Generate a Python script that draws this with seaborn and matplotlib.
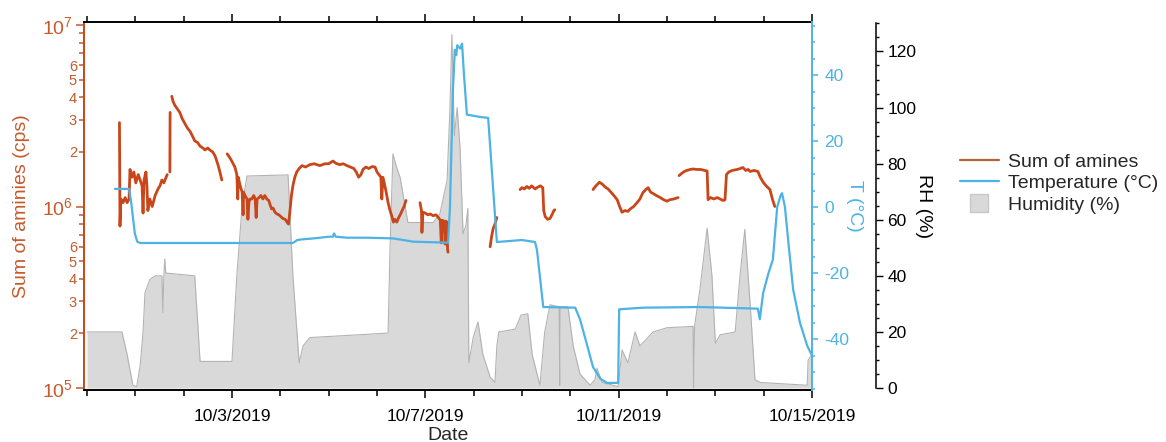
import numpy as np
import pandas as pd
import matplotlib
matplotlib.use("Agg")
import matplotlib.pyplot as plt
import matplotlib.dates as mdates
from matplotlib.ticker import LogLocator, FuncFormatter, MultipleLocator
from matplotlib.lines import Line2D
import seaborn as sns

START = pd.Timestamp("2019-09-30")
NAN = np.nan

# Sum of amines (cps); NaN separates measurement periods
amine_days = [
    0.672, 0.683, 0.70, 0.745, 0.79, 0.83, 0.87, 0.89, 0.93, 0.97, 1.01, 1.06, 1.10, 1.14,
    1.16, 1.18, 1.22, 1.24, 1.26, 1.30, 1.35, 1.41, 1.47, 1.51, 1.55, 1.59, 1.66, NAN,
    1.715, 1.72, NAN,
    1.755, 1.78, 1.82, 1.87, 1.92, 1.97, 2.03, 2.08, 2.13, 2.18, 2.23, 2.29, 2.34, 2.40,
    2.44, 2.50, 2.54, 2.60, 2.65, 2.71, 2.75, 2.79, NAN,
    2.90, 2.93, 2.96, 3.01, 3.06, 3.10, 3.12, 3.13, 3.17, 3.21, 3.23, 3.24, 3.27, 3.31,
    3.33, 3.35, 3.37, 3.41, 3.45, 3.48, 3.50, 3.52, 3.56, 3.60, 3.64, 3.68, 3.72, 3.76,
    3.79, 3.82, 3.85, 3.89, 3.93, 3.97, 4.01, 4.05, 4.10, 4.14, 4.17, 4.20, 4.23, 4.26,
    4.30, 4.34, 4.39, 4.45, 4.52, 4.61, 4.70, 4.82, 4.92, 5.00, 5.09, 5.15, 5.23, 5.30,
    5.38, 5.45, 5.52, 5.57, 5.62, 5.67, 5.71, 5.77, 5.83, 5.90, 5.96, 6.00, 6.04, 6.08,
    6.10, 6.12, 6.15, 6.19, 6.23, 6.27, 6.31, 6.34, 6.37, 6.41, 6.44, 6.48, 6.52, 6.56,
    6.60, NAN,
    6.89, 6.92, 6.93, 6.95, 7.00, 7.05, 7.10, 7.16, 7.22, 7.27, 7.31, 7.33, 7.35, 7.39,
    7.41, 7.42, 7.45, 7.46, 7.47, NAN,
    8.34, 8.37, 8.40, 8.44, 8.48, NAN,
    8.96, 9.00, 9.05, 9.10, 9.15, 9.20, 9.27, 9.33, 9.38, 9.43, 9.45, 9.48, 9.53, 9.58,
    9.62, 9.66, 9.68, NAN,
    10.47, 10.53, 10.60, 10.66, 10.72, 10.78, 10.84, 10.90, 10.97, 11.02, 11.07, 11.13,
    11.19, 11.24, 11.31, 11.38, 11.44, 11.50, 11.56, 11.61, 11.66, 11.71, 11.78, 11.86,
    11.93, 12.00, 12.06, 12.14, 12.23, NAN,
    12.25, 12.30, 12.36, 12.41, 12.48, 12.54, 12.62, 12.70, 12.78, 12.83, 12.85, 12.90,
    12.97, 13.04, 13.10, 13.16, 13.20, 13.23, 13.28, 13.35, 13.45, 13.52, 13.57, 13.63,
    13.68, 13.72, 13.80, 13.88, 13.93, 13.99, 14.05, 14.13, 14.18, 14.23,
]
amine_cps = [
    2.9e6, 0.78e6, 1.1e6, 1.05e6, 1.12e6, 1.05e6, 1.1e6, 1.6e6, 1.45e6, 1.55e6, 1.35e6, 1.5e6, 1.4e6, 1.3e6,
    0.92e6, 1.4e6, 1.55e6, 1.3e6, 0.95e6, 1.1e6, 1.0e6, 1.15e6, 1.25e6, 1.3e6, 1.4e6, 1.35e6, 1.5e6, NAN,
    1.55e6, 3.3e6, NAN,
    4.05e6, 3.8e6, 3.6e6, 3.45e6, 3.3e6, 3.05e6, 2.85e6, 2.7e6, 2.6e6, 2.45e6, 2.3e6, 2.25e6, 2.15e6, 2.1e6,
    2.05e6, 2.1e6, 2.05e6, 2.0e6, 1.9e6, 1.7e6, 1.55e6, 1.4e6, NAN,
    1.95e6, 1.9e6, 1.85e6, 1.75e6, 1.65e6, 1.5e6, 1.1e6, 1.45e6, 1.3e6, 1.2e6, 0.9e6, 1.2e6, 1.15e6, 1.1e6,
    0.85e6, 1.05e6, 1.1e6, 1.1e6, 1.15e6, 1.1e6, 0.87e6, 1.1e6, 1.12e6, 1.15e6, 1.1e6, 1.15e6, 1.1e6, 1.08e6,
    1.02e6, 0.97e6, 0.98e6, 0.93e6, 0.91e6, 0.9e6, 0.88e6, 0.86e6, 0.85e6, 0.82e6, 0.8e6, 0.95e6, 1.15e6, 1.3e6,
    1.45e6, 1.55e6, 1.62e6, 1.68e6, 1.65e6, 1.7e6, 1.72e6, 1.68e6, 1.72e6, 1.72e6, 1.78e6, 1.73e6, 1.7e6, 1.72e6,
    1.68e6, 1.65e6, 1.62e6, 1.55e6, 1.45e6, 1.5e6, 1.6e6, 1.65e6, 1.62e6, 1.66e6, 1.65e6, 1.55e6, 1.5e6, 1.45e6,
    1.1e6, 1.45e6, 1.35e6, 1.2e6, 1.05e6, 0.95e6, 0.88e6, 0.82e6, 0.85e6, 0.82e6, 0.86e6, 0.9e6, 0.95e6, 1.0e6,
    1.08e6, NAN,
    1.05e6, 0.95e6, 0.72e6, 0.93e6, 0.92e6, 0.9e6, 0.91e6, 0.89e6, 0.9e6, 0.87e6, 0.84e6, 0.63e6, 0.84e6, 0.83e6,
    0.62e6, 0.83e6, 0.82e6, 0.58e6, 0.56e6, NAN,
    0.6e6, 0.68e6, 0.75e6, 0.8e6, 0.87e6, NAN,
    1.24e6, 1.27e6, 1.25e6, 1.29e6, 1.26e6, 1.3e6, 1.25e6, 1.28e6, 1.3e6, 1.27e6, 0.95e6, 0.88e6, 0.85e6, 0.86e6,
    0.9e6, 0.95e6, 0.96e6, NAN,
    1.24e6, 1.3e6, 1.36e6, 1.33e6, 1.28e6, 1.25e6, 1.2e6, 1.15e6, 1.09e6, 1.0e6, 0.93e6, 0.95e6,
    0.94e6, 0.97e6, 1.0e6, 1.05e6, 1.1e6, 1.19e6, 1.24e6, 1.27e6, 1.2e6, 1.18e6, 1.15e6, 1.12e6,
    1.09e6, 1.07e6, 1.09e6, 1.1e6, 1.12e6, NAN,
    1.48e6, 1.52e6, 1.56e6, 1.58e6, 1.6e6, 1.61e6, 1.6e6, 1.6e6, 1.58e6, 1.57e6, 1.09e6, 1.12e6,
    1.1e6, 1.12e6, 1.1e6, 1.08e6, 1.09e6, 1.5e6, 1.55e6, 1.58e6, 1.6e6, 1.62e6, 1.64e6, 1.58e6,
    1.6e6, 1.56e6, 1.58e6, 1.56e6, 1.45e6, 1.36e6, 1.3e6, 1.24e6, 1.1e6, 1.0e6,
]

# Temperature (°C)
temp_days = [
    0.58, 0.87, 0.91, 0.95, 0.99, 1.04, 1.10, 4.26, 4.35, 4.45, 4.70, 5.00, 5.09, 5.11,
    5.15, 5.38, 5.80, 6.33, 6.75, 7.47, 7.51, 7.57, 7.61, 7.64, 7.66, 7.72, 7.76, 7.80,
    7.86, 8.13, 8.30, 8.48, 9.00, 9.27, 9.31, 9.44, 10.10, 10.20, 10.35, 10.47, 10.62,
    10.76, 10.99, 11.01, 11.50, 12.68, 13.88, 13.92, 13.99, 14.10, 14.19, 14.28, 14.35,
    14.38, 14.44, 14.52, 14.61, 14.75, 14.90, 15.0,
]
temp_c = [
    5.5, 5.5, 2, -3, -8, -10.5, -10.9, -10.9, -10.0, -9.8, -9.5, -9.0, -9.0, -8.0,
    -9.0, -9.3, -9.3, -9.5, -10.5, -10.8, 0, 35, 47.6, 46, 49, 48, 49.5, 40,
    28, 27.3, 27, -10.6, -10.0, -10.6, -13, -30.3, -30.5, -34, -42, -48.5, -52,
    -53.3, -53.3, -31, -30.5, -30.3, -30.8, -34, -26, -20, -16, 0, 3.5,
    4.2, 0, -12, -25, -35, -42, -45,
]

# Relative humidity (%)
rh_days = [
    0.00, 0.724, 0.83, 0.95, 1.03, 1.10, 1.16, 1.20, 1.30, 1.41, 1.55, 1.57, 1.59, 1.61,
    1.63, 2.23, 2.34, 3.00, 3.10, 3.21, 3.31, 4.16, 4.26, 4.39, 4.47, 4.61, 6.23, 6.27,
    6.33, 6.40, 6.48, 6.64, 7.16, 7.30, 7.45, 7.51, 7.55, 7.60, 7.66, 7.72, 7.78, 7.84,
    7.88, 7.90, 7.99, 8.09, 8.19, 8.34, 8.44, 8.48, 8.52, 8.86, 8.98, 9.12, 9.21, 9.37,
    9.47, 9.58, 9.77, 9.78, 9.79, 9.95, 10.06, 10.20, 10.41, 10.51, 10.55, 10.66, 10.99,
    11.07, 11.19, 11.34, 11.44, 11.55, 11.71, 12.00, 12.54, 12.55, 12.57, 12.68, 12.83,
    12.93, 13.00, 13.10, 13.41, 13.51, 13.61, 13.72, 13.82, 13.93, 14.90, 14.92, 15.0,
]
rh_pct = [
    20, 20, 12, 1, 0.5, 8, 20, 34, 38.7, 40, 40, 27, 40, 46,
    41, 40, 9.5, 9.5, 40, 65, 75.6, 76, 40, 9, 15, 18, 19.6, 50,
    83.5, 79, 75, 59, 59, 62, 74, 100, 126, 90, 100, 85, 55, 58,
    64, 9, 18, 23.6, 12, 4, 2, 15, 20, 21, 26, 26.5, 12, 1,
    20, 29.7, 29, 1, 29, 29, 15, 5, 1, 3, 7, 2, 0.5,
    13.6, 9, 20, 15, 17, 20, 21.5, 22, 0, 22, 35, 57,
    40, 16, 19, 20, 40, 56.6, 30, 3, 2, 1, 10, 12,
]

AMINE = "#c9461a"
AMINE_TXT = "#c65a2c"
TEMP = "#4db3e4"
RH_FILL = "#d9d9d9"
RH_EDGE = "#b3b3b3"

sns.set_theme(style="white")
plt.rcParams["font.family"] = ["Liberation Sans", "DejaVu Sans"]
plt.rcParams["mathtext.fontset"] = "custom"
plt.rcParams["mathtext.rm"] = "Liberation Sans"
plt.rcParams["mathtext.it"] = "Liberation Sans:italic"
plt.rcParams["axes.unicode_minus"] = False


def to_time(days):
    return START + pd.to_timedelta(np.asarray(days, dtype=float), unit="D")


amine = pd.DataFrame({"day": amine_days, "cps": amine_cps})
amine["seg"] = amine["cps"].isna().cumsum()
amine = amine.dropna()
amine["time"] = to_time(amine["day"])

temp = pd.DataFrame({"time": to_time(temp_days), "T": temp_c})
rh = pd.DataFrame({"time": to_time(rh_days), "RH": rh_pct})

fig = plt.figure(figsize=(11.66, 4.42), dpi=100)
ax = fig.add_axes([0.072, 0.1176, 0.6244, 0.8326])
ax_rh = ax.twinx()
ax_t = ax.twinx()
ax_rh.set_zorder(1)
ax.set_zorder(2)
ax_t.set_zorder(3)
for a in (ax, ax_rh, ax_t):
    a.patch.set_visible(False)

# Humidity as a filled area behind everything
ax_rh.fill_between(rh["time"], rh["RH"], 0, color=RH_FILL, linewidth=0)
sns.lineplot(data=rh, x="time", y="RH", ax=ax_rh, color=RH_EDGE, linewidth=0.8,
             estimator=None, sort=False, legend=False)

# Sum of amines on a log scale
sns.lineplot(data=amine, x="time", y="cps", units="seg", estimator=None, sort=False,
             ax=ax, color=AMINE, linewidth=2.0, legend=False)

# Temperature
sns.lineplot(data=temp, x="time", y="T", estimator=None, sort=False, ax=ax_t,
             color=TEMP, linewidth=1.6, legend=False)

x0 = START - pd.Timedelta(hours=1.5)
x1 = pd.Timestamp("2019-10-15")
ax.set_xlim(x0, x1)

# x axis: daily ticks, labelled every four days
ax.xaxis.set_major_locator(mdates.DayLocator(bymonthday=[3, 7, 11, 15]))
ax.xaxis.set_minor_locator(mdates.DayLocator())


def date_label(v, pos=None):
    d = mdates.num2date(v)
    return f"{d.month}/{d.day}/{d.year}"


ax.xaxis.set_major_formatter(FuncFormatter(date_label))
ax.tick_params(axis="x", which="both", direction="out", top=True, bottom=True,
               labeltop=False, colors="black", width=1.1)
ax.tick_params(axis="x", which="major", length=6, labelsize=12.5, pad=8)
ax.tick_params(axis="x", which="minor", length=4)
ax.set_xlabel("Date", fontsize=14, labelpad=2)

# left log axis
ax.set_yscale("log")
ax.set_ylim(10 ** 4.989, 10 ** 7.0165)
ax.yaxis.set_major_locator(LogLocator(base=10, numticks=5))
ax.yaxis.set_minor_locator(LogLocator(base=10, subs=np.arange(2, 10), numticks=20))
ax.yaxis.set_major_formatter(FuncFormatter(lambda v, p: f"$10^{{{int(round(np.log10(v)))}}}$"))


def minor_label(v, pos=None):
    m = v / 10 ** np.floor(np.log10(v) + 1e-9)
    k = int(round(m))
    return str(k) if 2 <= k <= 6 else ""


ax.yaxis.set_minor_formatter(FuncFormatter(minor_label))
ax.tick_params(axis="y", which="both", direction="out", colors=AMINE_TXT, width=1.1)
ax.tick_params(axis="y", which="major", length=6, labelsize=14, pad=2)
ax.tick_params(axis="y", which="minor", length=3.5, labelsize=10.5, pad=1.5)
ax.set_ylabel("Sum of aminies (cps)", fontsize=14, color=AMINE_TXT)
ax.yaxis.set_label_coords(-0.074, 0.5)

for side in ("top", "bottom"):
    ax.spines[side].set_color("black")
    ax.spines[side].set_linewidth(1.4)
ax.spines["left"].set_color(AMINE)
ax.spines["left"].set_linewidth(1.4)
ax.spines["right"].set_visible(False)

# temperature axis on the right edge
ax_t.set_ylim(-55.45, 56.06)
ax_t.yaxis.set_major_locator(MultipleLocator(20))
ax_t.yaxis.set_minor_locator(MultipleLocator(5))
ax_t.tick_params(axis="y", which="both", direction="out", colors=TEMP, width=1.1)
ax_t.tick_params(axis="y", which="major", length=4, labelsize=12.5, pad=5)
ax_t.tick_params(axis="y", which="minor", length=2.5)
for side in ("top", "bottom", "left"):
    ax_t.spines[side].set_visible(False)
ax_t.spines["right"].set_color(TEMP)
ax_t.spines["right"].set_linewidth(1.4)
ax_t.set_ylabel("T (°C)", fontsize=14, color=TEMP, rotation=270, va="center")
ax_t.yaxis.set_label_coords(1.059, 0.5)

# humidity axis offset to the right
ax_rh.set_ylim(-0.7, 130.5)
ax_rh.spines["right"].set_position(("axes", 1.088))
ax_rh.spines["right"].set_bounds(0, 130)
ax_rh.spines["right"].set_color("black")
ax_rh.spines["right"].set_linewidth(1.1)
for side in ("top", "bottom", "left"):
    ax_rh.spines[side].set_visible(False)
ax_rh.yaxis.set_major_locator(MultipleLocator(20))
ax_rh.yaxis.set_minor_locator(MultipleLocator(5))
ax_rh.tick_params(axis="y", which="both", direction="out", colors="black", width=1.0)
ax_rh.tick_params(axis="y", which="major", length=5, labelsize=12.5, pad=3)
ax_rh.tick_params(axis="y", which="minor", length=2.5)
ax_rh.set_ylabel("RH (%)", fontsize=14, color="black", rotation=270, va="center")
ax_rh.yaxis.set_label_coords(1.1525, 0.5)

handles = [
    Line2D([], [], color="#b5623a", linewidth=1.6),
    Line2D([], [], color=TEMP, linewidth=1.6),
    Line2D([], [], linestyle="none", marker="s", markersize=13,
           markerfacecolor=RH_FILL, markeredgecolor="#c8c8c8"),
]
fig.legend(handles, ["Sum of amines", "Temperature (°C)", "Humidity (%)"],
           loc="upper left", bbox_to_anchor=(960 / 1166, 1 - 153 / 442),
           frameon=False, fontsize=14, handlelength=2.0, handletextpad=0.45,
           labelspacing=0.2, borderpad=0, borderaxespad=0)

fig.savefig("out.png", dpi=100, facecolor="white")
